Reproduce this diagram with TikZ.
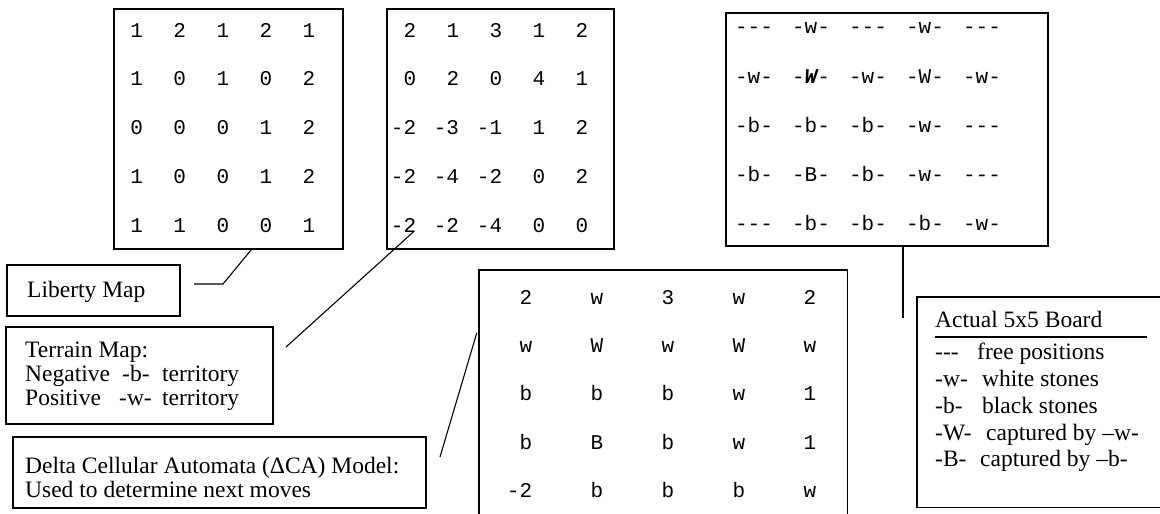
\documentclass[tikz,border=0pt]{standalone}
\usepackage{fontspec}
\setmainfont{Liberation Serif}
\newfontfamily\monof{Liberation Mono}
\usetikzlibrary{calc}
\newcommand\frp{-{}-{}-}
\newcommand\bW{-{\bfseries\itshape W}-}
\tikzset{
  box/.style={draw, line width=1.4pt, inner sep=0pt},
  openbox/.style={inner sep=0pt},
  conn/.style={line width=1.1pt},
  num/.style={font=\monof\fontsize{21}{21}\selectfont, inner sep=0pt, anchor=base east},
  tok/.style={font=\monof\fontsize{21}{21}\selectfont, inner sep=0pt, anchor=base},
  serif/.style={font=\fontsize{23.5}{26}\selectfont, inner sep=0pt, anchor=base west},
}
\begin{document}
\begin{tikzpicture}[x=1pt,y=-1pt]
\useasboundingbox (0,0) rectangle (1160,514);
% boxes
\node[box, minimum width=229pt, minimum height=240pt] (libgrid) at (228.5,129) {};
\node[box, minimum width=227pt, minimum height=240pt] (tergrid) at (500.5,129) {};
\node[box, minimum width=322pt, minimum height=233pt] (board) at (887,129.5) {};
\node[box, minimum width=173pt, minimum height=51pt] (libbox) at (93.5,290.5) {};
\node[box, minimum width=267pt, minimum height=97pt] (terbox) at (139.5,375.5) {};
\node[box, minimum width=413pt, minimum height=71pt] (delbox) at (219.5,472.5) {};
\node[openbox, minimum width=368pt, minimum height=244pt] (dca) at (663,392) {};
\draw[line width=1.4pt] (dca.south west) -- (dca.north west) -- (dca.north east) -- (dca.south east);
\node[openbox, minimum width=243pt, minimum height=210pt] (legend) at (1038.5,402) {};
\draw[line width=1.4pt] (legend.north east) -- (legend.north west) -- (legend.south west) -- (legend.south east);
% liberty grid
\foreach \row [count=\r] in {{1,2,1,2,1},{1,0,1,0,2},{0,0,0,1,2},{1,0,0,1,2},{1,1,0,0,1}} {
  \foreach \v [count=\c] in \row {
    \node[num] (lg-\r-\c) at ({143.3+43*(\c-1)}, {37+48.75*(\r-1)}) {\v};
  }
}
% terrain grid
\foreach \row [count=\r] in {{2,1,3,1,2},{0,2,0,4,1},{-2,-3,-1,1,2},{-2,-4,-2,0,2},{-2,-2,-4,0,0}} {
  \foreach \v [count=\c] in \row {
    \node[num] (tg-\r-\c) at ({416.3+43*(\c-1)}, {37+48.75*(\r-1)}) {\v};
  }
}
% board
\foreach \row [count=\r] in {{\frp,-w-,\frp,-w-,\frp},{-w-,\bW,-w-,-W-,-w-},{-b-,-b-,-b-,-w-,\frp},{-b-,-B-,-b-,-w-,\frp},{\frp,-b-,-b-,-b-,-w-}} {
  \foreach \v [count=\c] in \row {
    \node[tok] (bd-\r-\c) at ({754+57*(\c-1)}, {34+49*(\r-1)}) {\v};
  }
}
% delta CA grid
\foreach \row [count=\r] in {{2,w,3,w,2},{w,W,w,W,w},{b,b,b,w,1},{b,B,b,w,1},{-2,b,b,b,w}} {
  \foreach \v [count=\c] in \row {
    \node[num] (ca-\r-\c) at ({532.3+71*(\c-1)}, {304.5+48.2*(\r-1)}) {\v};
  }
}
% labels
\node[serif] (libtxt) at (27,297) {Liberty Map};
\node[serif] (ter1) at (25,357) {Terrain Map:};
\node[serif] (ter2) at (25,381) {\makebox[97pt][l]{Negative}\makebox[40pt][l]{-b-}territory};
\node[serif] (ter3) at (25,405) {\makebox[94pt][l]{Positive}\makebox[43pt][l]{-w-}territory};
\node[serif] (del1) at (25,473) {Delta Cellular Automata (ΔCA) Model:};
\node[serif] (del2) at (25,497) {Used to determine next moves};
\node[serif] (leg0) at (935,327) {Actual 5x5 Board};
\draw[line width=1.8pt] ($(leg0.base west)+(0,10)$) -- ++(212,0);
\node[serif] (leg1) at (935,359) {\makebox[42pt][l]{\frp}free positions};
\node[serif] (leg2) at (935,386) {\makebox[47pt][l]{-w-}white stones};
\node[serif] (leg3) at (935,413) {\makebox[47pt][l]{-b-}black stones};
\node[serif] (leg4) at (935,440) {\makebox[51pt][l]{-W-}captured by –w-};
\node[serif] (leg5) at (935,466) {\makebox[45pt][l]{-B-}captured by –b-};
% connectors
\coordinate (lstart) at ($(libgrid.south west)+(138,0)$);
\coordinate (lbend) at (223,284);
\coordinate (lend) at (194,284);
\draw[conn] (lstart) -- (lbend) -- (lend);
\coordinate (tstart) at ($(tg-5-1.base east)+(-3,0)$);
\coordinate (tend) at (286,347);
\draw[conn] (tstart) -- (tend);
\coordinate (cstart) at ($(dca.north west)+(-2,63)$);
\coordinate (cend) at (440,457);
\draw[conn] (cstart) -- (cend);
\coordinate (bstart) at ($(board.south)+(16,0)$);
\coordinate (bend) at (903,318);
\draw[conn] (bstart) -- (bend);
\end{tikzpicture}
\end{document}
